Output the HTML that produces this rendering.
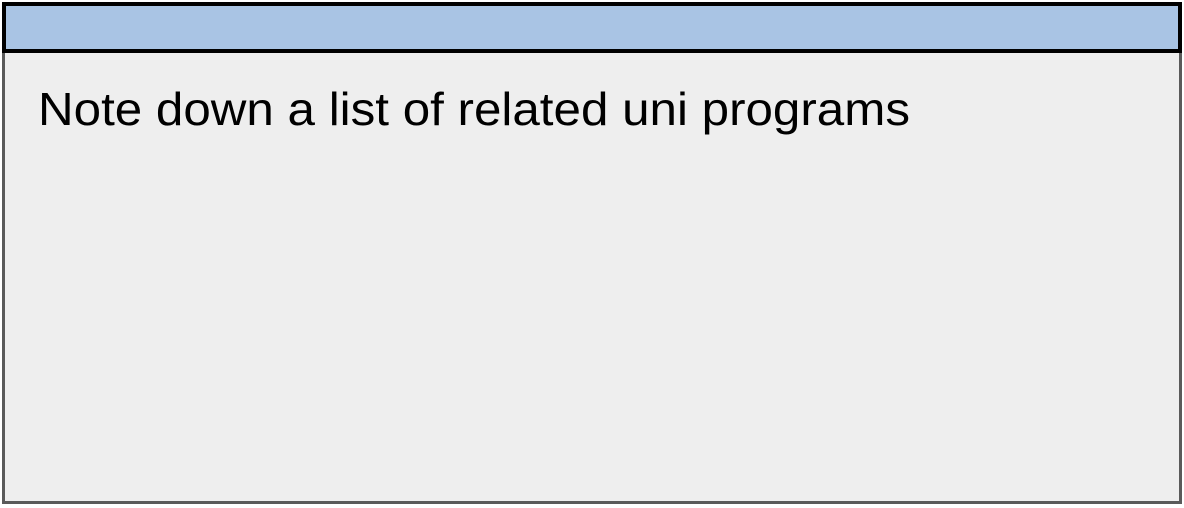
<!DOCTYPE html>
<html><head><style>
html,body{margin:0;padding:0;width:1184px;height:508px;background:#fff;overflow:hidden}
</style></head><body>
<svg width="1184" height="508" xmlns="http://www.w3.org/2000/svg">
<rect x="3.5" y="51.5" width="1177" height="451" fill="#eeeeee" stroke="#5a5a5a" stroke-width="3"/>
<rect x="4" y="4" width="1176" height="47" fill="#a9c4e4" stroke="#000" stroke-width="4"/>
<text x="38" y="125" font-family="'Comic Sans MS','Liberation Sans',sans-serif" font-size="46" fill="#000" textLength="872" lengthAdjust="spacingAndGlyphs">Note down a list of related uni programs</text>
</svg>
</body></html>
